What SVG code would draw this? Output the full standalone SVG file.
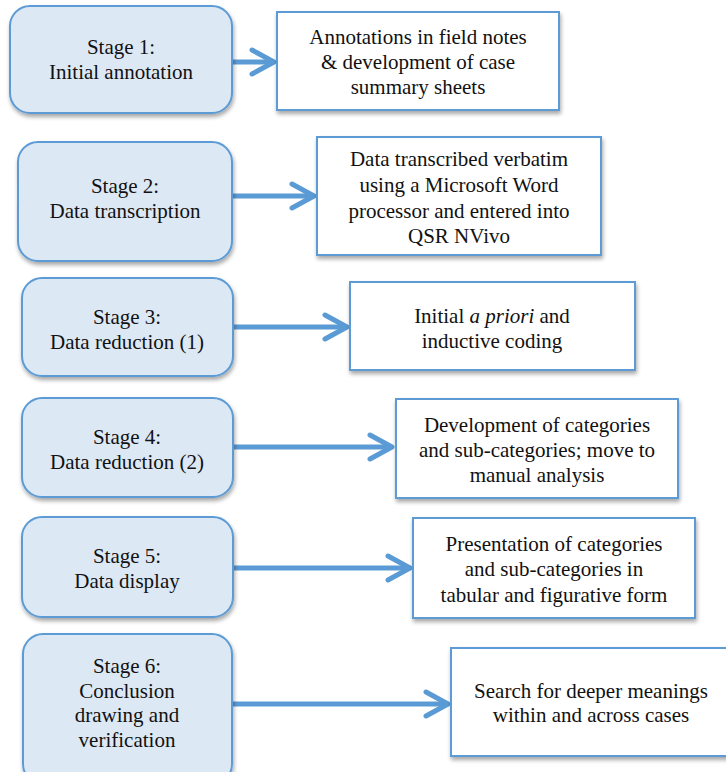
<svg xmlns="http://www.w3.org/2000/svg" width="726" height="772" viewBox="0 0 726 772">
<defs>
<filter id="sh" x="-10%" y="-10%" width="130%" height="130%">
<feGaussianBlur in="SourceAlpha" stdDeviation="2"/>
<feOffset dx="1" dy="3" result="b"/>
<feComponentTransfer><feFuncA type="linear" slope="0.35"/></feComponentTransfer>
<feMerge><feMergeNode/><feMergeNode in="SourceGraphic"/></feMerge>
</filter>
<marker id="ah" markerUnits="userSpaceOnUse" markerWidth="30" markerHeight="30" viewBox="-26 -15 30 30" refX="0" refY="0" orient="auto">
<path d="M-22,-12 L0,0 L-22,12" fill="none" stroke="#5b9bd5" stroke-width="5" stroke-linecap="round" stroke-linejoin="round"/>
</marker>
</defs>
<style>
.stage{fill:#dde8f5;stroke:#5b9bd5;stroke-width:2}
.out{fill:#ffffff;stroke:#5b9bd5;stroke-width:2}
.c{stroke:#5b9bd5;stroke-width:5;fill:none}
</style>
<g id="connectors">
<line class="c" x1="232" y1="62" x2="274" y2="62" marker-end="url(#ah)"/>
<line class="c" x1="232" y1="196" x2="314" y2="196" marker-end="url(#ah)"/>
<line class="c" x1="233" y1="327" x2="347" y2="327" marker-end="url(#ah)"/>
<line class="c" x1="233" y1="447" x2="392" y2="447" marker-end="url(#ah)"/>
<line class="c" x1="233" y1="568" x2="410" y2="568" marker-end="url(#ah)"/>
<line class="c" x1="232" y1="704" x2="448" y2="704" marker-end="url(#ah)"/>
</g>
<g font-family="'Liberation Serif', 'Times New Roman', serif" font-size="21" fill="#111" text-anchor="middle">
<g id="stage1"><rect class="stage" filter="url(#sh)" x="10" y="6" width="222" height="107" rx="20"/>
<text x="121" y="54">Stage 1:</text><text x="121" y="79">Initial annotation</text></g>
<g id="out1"><rect class="out" filter="url(#sh)" x="277" y="12" width="282" height="98"/>
<text x="418" y="44">Annotations in field notes</text><text x="418" y="69">&amp; development of case</text><text x="418" y="94">summary sheets</text></g>
<g id="stage2"><rect class="stage" filter="url(#sh)" x="18" y="142" width="214" height="119" rx="20"/>
<text x="125" y="193">Stage 2:</text><text x="125" y="218">Data transcription</text></g>
<g id="out2"><rect class="out" filter="url(#sh)" x="317" y="137" width="284" height="118"/>
<text x="459" y="166">Data transcribed verbatim</text><text x="459" y="192">using a Microsoft Word</text><text x="459" y="218">processor and entered into</text><text x="459" y="243">QSR NVivo</text></g>
<g id="stage3"><rect class="stage" filter="url(#sh)" x="22" y="278" width="211" height="98" rx="20"/>
<text x="127" y="324">Stage 3:</text><text x="127" y="349">Data reduction (1)</text></g>
<g id="out3"><rect class="out" filter="url(#sh)" x="350" y="282" width="285" height="88"/>
<text x="492" y="323">Initial <tspan font-style="italic">a priori</tspan> and</text><text x="492" y="348">inductive coding</text></g>
<g id="stage4"><rect class="stage" filter="url(#sh)" x="22" y="398" width="211" height="99" rx="20"/>
<text x="127" y="444">Stage 4:</text><text x="127" y="469">Data reduction (2)</text></g>
<g id="out4"><rect class="out" filter="url(#sh)" x="396" y="399" width="282" height="99"/>
<text x="537" y="432">Development of categories</text><text x="537" y="457">and sub-categories; move to</text><text x="537" y="482">manual analysis</text></g>
<g id="stage5"><rect class="stage" filter="url(#sh)" x="22" y="517" width="211" height="100" rx="20"/>
<text x="127" y="563">Stage 5:</text><text x="127" y="588">Data display</text></g>
<g id="out5"><rect class="out" filter="url(#sh)" x="413" y="518" width="282" height="100"/>
<text x="554" y="551">Presentation of categories</text><text x="554" y="576">and sub-categories in</text><text x="554" y="602">tabular and figurative form</text></g>
<g id="stage6"><rect class="stage" filter="url(#sh)" x="23" y="634" width="209" height="150" rx="20"/>
<text x="127" y="673">Stage 6:</text><text x="127" y="698">Conclusion</text><text x="127" y="722">drawing and</text><text x="127" y="747">verification</text></g>
<g id="out6"><rect class="out" filter="url(#sh)" x="451" y="648" width="290" height="108"/>
<text x="591" y="698">Search for deeper meanings</text><text x="591" y="722">within and across cases</text></g>
</g>
</svg>
